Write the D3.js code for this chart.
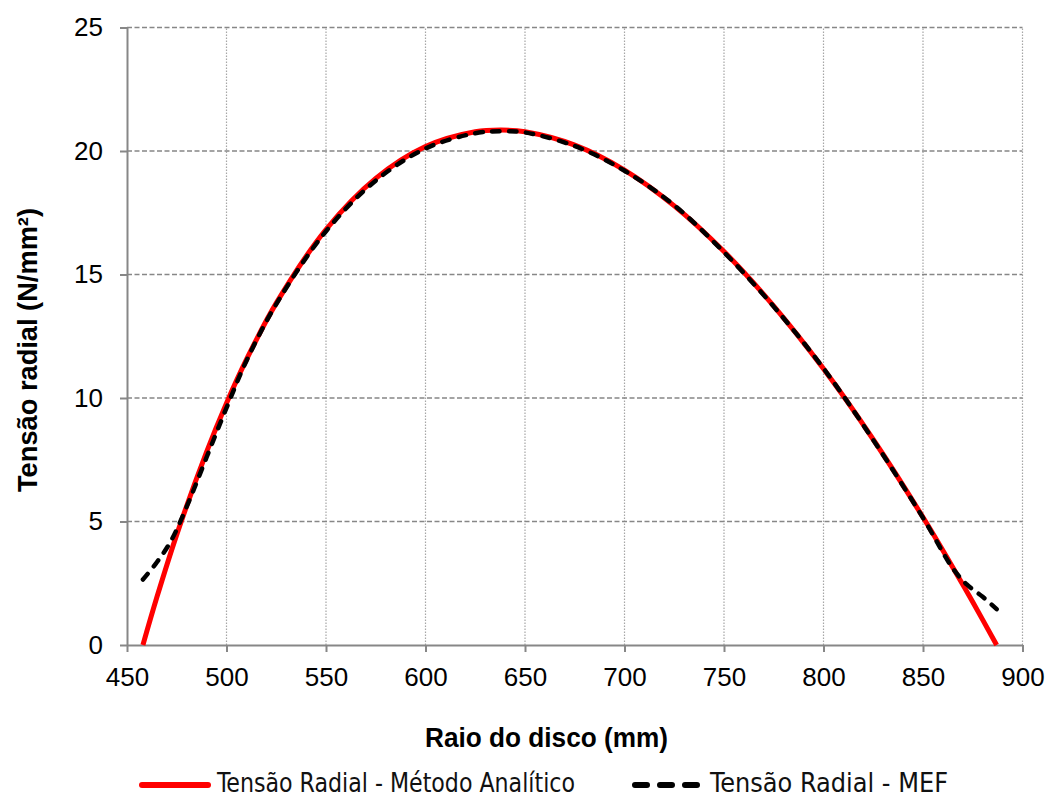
<!DOCTYPE html>
<head>
    <title></title>
    <meta charset="utf-8">
    <script src="https://d3js.org/d3.v7.min.js"></script>
    <style>
        body {
            margin: 0;
            background: #fff;
        }

        .tick text {
            font-family: "Liberation Sans", Arial, sans-serif;
            font-size: 26px;
            fill: #000;
        }

        .axis line, .axis path {
            stroke: #878787;
            stroke-width: 2px;
        }

        .title {
            font-family: "Liberation Sans", Arial, sans-serif;
            font-weight: bold;
            font-size: 27px;
        }

        .legend text {
            font-family: "Liberation Sans Narrow", "DejaVu Sans Condensed", sans-serif;
            font-size: 26px;
            fill: #111;
        }
    </style>
</head>

<body>
    <svg id="svg" width="1047" height="800"></svg>
    <script type="text/javascript">
    // radius (mm) and radial stress (N/mm2)
    var raioAnalitico = [458, 465, 475, 490, 500, 510, 525, 550, 575, 600, 625, 638, 650, 675, 700, 725, 750, 775, 800, 825, 850, 865, 875, 887];
    var tensaoAnalitico = [0, 1.93, 4.47, 7.82, 9.79, 11.55, 13.84, 16.82, 18.89, 20.18, 20.78, 20.85, 20.78, 20.24, 19.23, 17.78, 15.93, 13.72, 11.18, 8.32, 5.17, 3.14, 1.74, 0];

    var raioMEF = [458, 465, 472, 480, 490, 500, 510, 525, 550, 575, 600, 625, 638, 650, 675, 700, 725, 750, 775, 800, 825, 850, 865, 872, 880, 887];
    var tensaoMEF = [2.65, 3.35, 4.2, 5.6, 7.6, 9.6, 11.5, 13.8, 16.75, 18.8, 20.1, 20.72, 20.8, 20.75, 20.2, 19.2, 17.8, 15.9, 13.7, 11.2, 8.3, 5.15, 3.1, 2.45, 1.95, 1.45];

    var xTicks = [450, 500, 550, 600, 650, 700, 750, 800, 850, 900];
    var yTicks = [0, 5, 10, 15, 20, 25];

    var svg = d3.select("#svg");

    var x = d3.scaleLinear().domain([450, 900]).range([127, 1022.5]);
    var y = d3.scaleLinear().domain([0, 25]).range([645, 27.5]);

    // grid
    svg.append("g").selectAll("line")
        .data(xTicks.slice(1))
        .enter().append("line")
        .attr("x1", function (d) { return x(d); })
        .attr("x2", function (d) { return x(d); })
        .attr("y1", y(0))
        .attr("y2", y(25))
        .attr("stroke", "#a6a6a6")
        .attr("stroke-width", 1.2)
        .attr("stroke-dasharray", "1.5,1.5");

    svg.append("g").selectAll("line")
        .data(yTicks.slice(1))
        .enter().append("line")
        .attr("x1", x(450))
        .attr("x2", x(900))
        .attr("y1", function (d) { return y(d); })
        .attr("y2", function (d) { return y(d); })
        .attr("stroke", "#878787")
        .attr("stroke-width", 1.4)
        .attr("stroke-dasharray", "5,2.5");

    // axes
    svg.append("g")
        .attr("class", "axis")
        .attr("transform", "translate(0," + y(0) + ")")
        .call(d3.axisBottom(x).tickValues(xTicks).tickSize(7).tickPadding(16).tickSizeOuter(0));

    svg.append("g")
        .attr("class", "axis")
        .attr("transform", "translate(" + x(450) + ",0)")
        .call(d3.axisLeft(y).tickValues(yTicks).tickSize(7).tickPadding(17).tickSizeOuter(0));

    // curves
    var line = d3.line()
        .x(function (d) { return x(d[0]); })
        .y(function (d) { return y(d[1]); })
        .curve(d3.curveCatmullRom);

    svg.append("path")
        .datum(d3.zip(raioAnalitico, tensaoAnalitico))
        .attr("d", line)
        .attr("fill", "none")
        .attr("stroke", "#ff0000")
        .attr("stroke-width", 5);

    svg.append("path")
        .datum(d3.zip(raioMEF, tensaoMEF))
        .attr("d", line)
        .attr("fill", "none")
        .attr("stroke", "#000")
        .attr("stroke-width", 4.5)
        .attr("stroke-linecap", "round")
        .attr("stroke-dasharray", "7.5,9.5");

    // titles
    svg.append("text")
        .attr("class", "title")
        .attr("x", 546.5)
        .attr("y", 746.5)
        .attr("text-anchor", "middle")
        .attr("textLength", 243)
        .attr("lengthAdjust", "spacingAndGlyphs")
        .text("Raio do disco (mm)");

    svg.append("text")
        .attr("class", "title")
        .attr("transform", "translate(37,350) rotate(-90)")
        .attr("text-anchor", "middle")
        .attr("textLength", 284)
        .attr("lengthAdjust", "spacingAndGlyphs")
        .text("Tensão radial (N/mm²)");

    // legend
    var legend = svg.append("g").attr("class", "legend");

    legend.append("line")
        .attr("x1", 142).attr("x2", 208)
        .attr("y1", 785).attr("y2", 785)
        .attr("stroke", "#ff0000")
        .attr("stroke-width", 6)
        .attr("stroke-linecap", "round");

    legend.append("text")
        .attr("x", 217)
        .attr("y", 792)
        .attr("textLength", 358)
        .attr("lengthAdjust", "spacingAndGlyphs")
        .text("Tensão Radial - Método Analítico");

    legend.append("line")
        .attr("x1", 635).attr("x2", 697)
        .attr("y1", 785).attr("y2", 785)
        .attr("stroke", "#000")
        .attr("stroke-width", 6)
        .attr("stroke-linecap", "round")
        .attr("stroke-dasharray", "12,13");

    legend.append("text")
        .attr("x", 710)
        .attr("y", 792)
        .attr("textLength", 238)
        .attr("lengthAdjust", "spacingAndGlyphs")
        .text("Tensão Radial - MEF");
    </script>
</body>
